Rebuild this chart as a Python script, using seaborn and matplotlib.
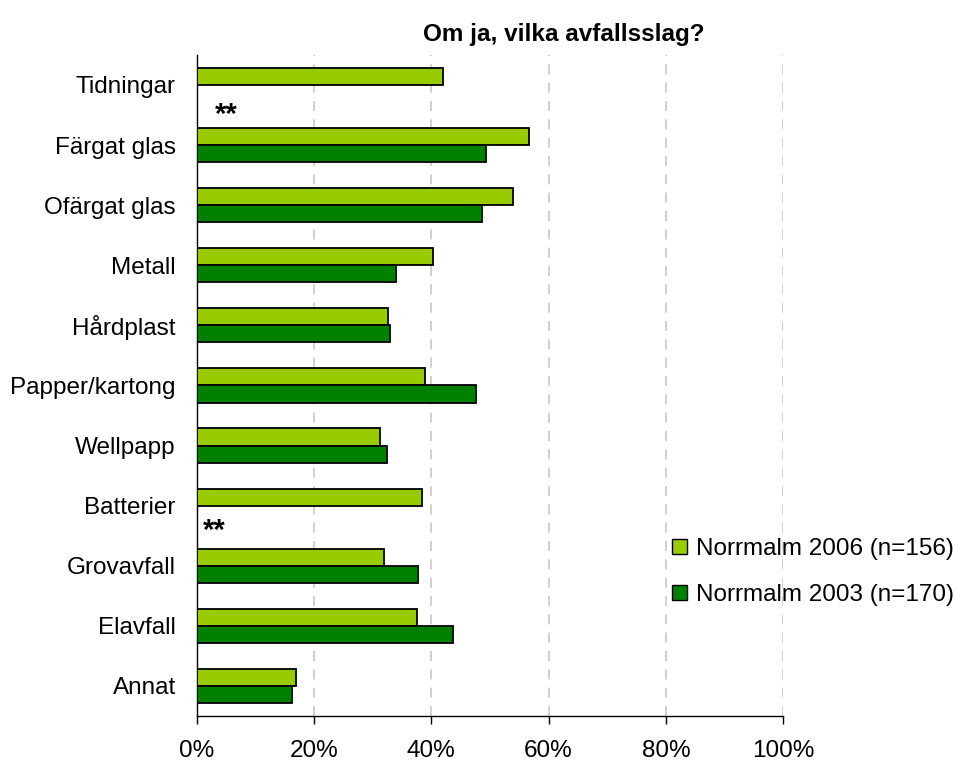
import pandas as pd
import numpy as np
import matplotlib.pyplot as plt
from matplotlib.patches import Patch
from matplotlib.ticker import FixedLocator
import seaborn as sns

# Kategorier och andelar (%)
kategorier = ["Tidningar", "Färgat glas", "Ofärgat glas", "Metall", "Hårdplast",
              "Papper/kartong", "Wellpapp", "Batterier", "Grovavfall", "Elavfall", "Annat"]
norrmalm_2006 = [42.0, 56.7, 54.0, 40.3, 32.7, 39.0, 31.3, 38.4, 32.0, 37.6, 17.0]
norrmalm_2003 = [np.nan, 49.3, 48.6, 34.0, 33.0, 47.7, 32.4, np.nan, 37.7, 43.7, 16.3]
serier = ["Norrmalm 2006 (n=156)", "Norrmalm 2003 (n=170)"]
farger = ["#99CC00", "#008000"]
xticks = [0, 20, 40, 60, 80, 100]
# "**" markerar saknad jämförelse för 2003
stjarnor = [("Tidningar", 5.1, 0.5), ("Batterier", 3.0, 0.42)]

df = pd.DataFrame({"Kategori": kategorier * 2,
                   "Andel": norrmalm_2006 + norrmalm_2003,
                   "Serie": [serier[0]] * len(kategorier) + [serier[1]] * len(kategorier)})
df = df.dropna()

sns.set_style("white")
plt.rcParams["font.family"] = ["Liberation Sans", "DejaVu Sans"]
plt.rcParams["text.color"] = "black"
plt.rcParams["xtick.color"] = "black"
plt.rcParams["ytick.color"] = "black"

fig = plt.figure(figsize=(9.57, 7.62), dpi=100)
ax = fig.add_axes([0.2055, 0.0604, 0.6129, 0.8675])

sns.barplot(data=df, x="Andel", y="Kategori", hue="Serie", order=kategorier,
            hue_order=serier, palette=farger, saturation=1, orient="h", width=0.57,
            errorbar=None, edgecolor="black", linewidth=1.3, legend=False, ax=ax,
            zorder=3)

ax.set_xlim(0, 100)
ax.set_ylim(len(kategorier) - 0.5, -0.5)
ax.set_xticks(xticks)
ax.set_xticklabels([f"{v}%" for v in xticks], fontsize=17.5)
ax.set_xlabel("")
ax.set_ylabel("")
ax.tick_params(axis="y", which="major", length=0, pad=15, labelsize=17.5)
ax.yaxis.set_minor_locator(FixedLocator(np.arange(-0.5, len(kategorier), 1.0)))
ax.tick_params(axis="y", which="minor", length=6, width=1, color="black", direction="out")
ax.tick_params(axis="x", length=6, width=1, color="black", direction="out", pad=11)
ax.tick_params(left=True, bottom=True)
ax.tick_params(axis="y", which="major", left=False)

for v in xticks[1:]:
    ax.axvline(v, color="#C8C8C8", lw=1.2, ls=(0, (6, 5)), zorder=1)

for s in ["top", "right"]:
    ax.spines[s].set_visible(False)
for s in ["left", "bottom"]:
    ax.spines[s].set_color("black")
    ax.spines[s].set_linewidth(1)

for kat, x, dy in stjarnor:
    ax.text(x, kategorier.index(kat) + dy, "**", fontsize=21, fontweight="bold",
            ha="center", va="center")

fig.text(564 / 957, 1 - 34 / 762, "Om ja, vilka avfallsslag?", fontsize=17.5,
         fontweight="bold", ha="center", va="center")

handles = [Patch(facecolor=c, edgecolor="black", lw=1) for c in farger]
fig.legend(handles, serier, loc="upper left", bbox_to_anchor=(672 / 957, 1 - 538 / 762),
           frameon=False, fontsize=17.5, handlelength=0.6, handleheight=0.6,
           handletextpad=0.4, labelspacing=1.0, borderpad=0, borderaxespad=0)

fig.savefig("out.png", dpi=100)
